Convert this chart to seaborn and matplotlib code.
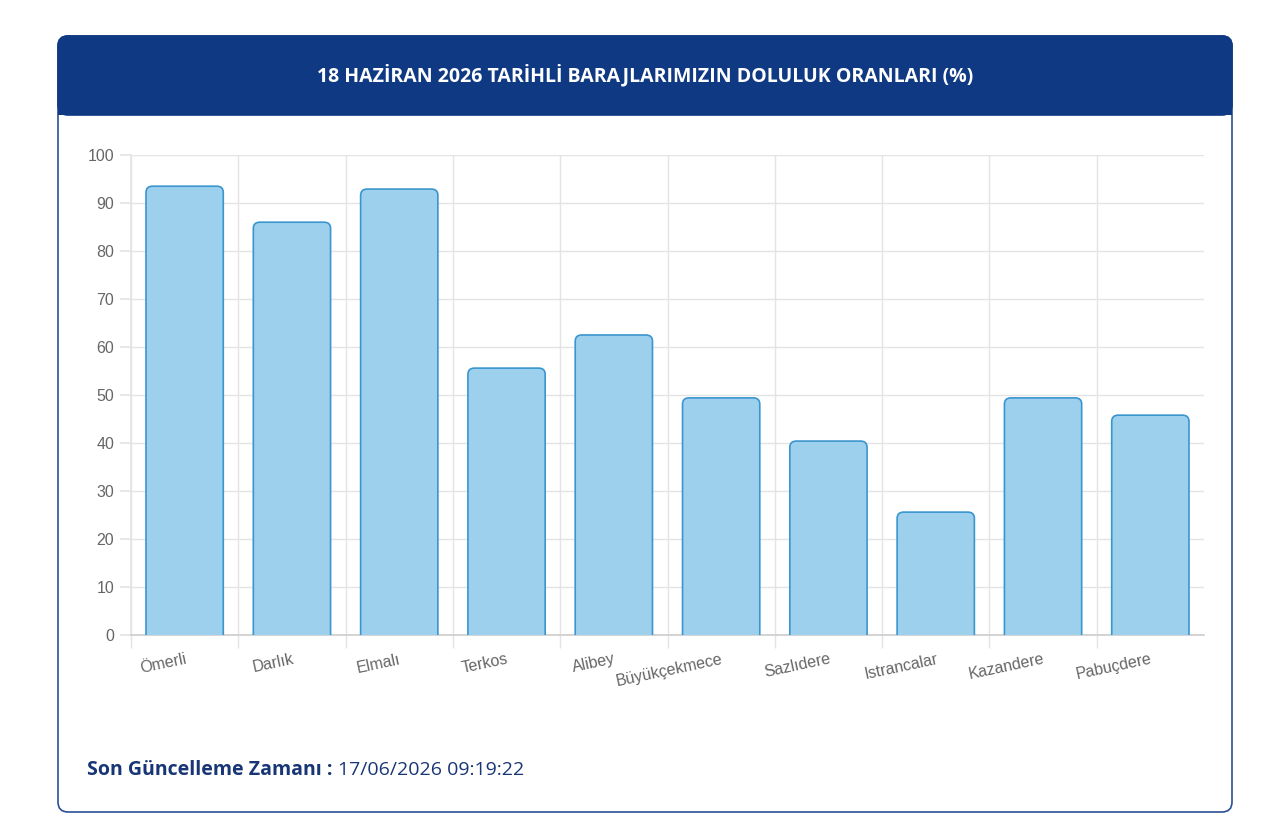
import numpy as np
import pandas as pd
import seaborn as sns
import matplotlib.pyplot as plt
from matplotlib.patches import FancyBboxPatch, Rectangle
from matplotlib.transforms import IdentityTransform

# Dam fill ratios (%)
dams = ["Ömerli", "Darlık", "Elmalı", "Terkos", "Alibey", "Büyükçekmece",
        "Sazlıdere", "Istrancalar", "Kazandere", "Pabuçdere"]
fill_pct = [93.5, 86.0, 92.9, 55.6, 62.5, 49.4, 40.4, 25.6, 49.4, 45.8]
y_ticks = list(range(0, 101, 10))

title = "18 HAZİRAN 2026 TARİHLİ BARAJLARIMIZIN DOLULUK ORANLARI (%)"
footer_label = "Son Güncelleme Zamanı :"
footer_value = "17/06/2026 09:19:22"

df = pd.DataFrame({"dam": dams, "fill": fill_pct})

sns.set_theme(style="white")
plt.rcParams["font.family"] = ["Liberation Sans", "DejaVu Sans"]

navy = "#0f3982"
bar_face = "#9dd0ec"
bar_edge = "#3a96cf"
grid_c = "#e4e4e4"
tick_c = "#666666"

W, H = 1280, 840
fig = plt.figure(figsize=(W / 100, H / 100), dpi=100)
fig.patch.set_facecolor("white")

# card frame + header band (pixel coords, origin bottom-left)
card = FancyBboxPatch((58, H - 812), 1174, 776, boxstyle="round,pad=0,rounding_size=10",
                      transform=IdentityTransform(), facecolor="white",
                      edgecolor="#2b4f97", linewidth=1.2, zorder=-3)
fig.patches.append(card)
head = FancyBboxPatch((58, H - 115), 1174, 79, boxstyle="round,pad=0,rounding_size=10",
                      transform=IdentityTransform(), facecolor=navy, edgecolor=navy,
                      linewidth=1.2, zorder=-2)
fig.patches.append(head)
fig.patches.append(Rectangle((58, H - 115), 1174, 20, transform=IdentityTransform(),
                             facecolor=navy, edgecolor="none", zorder=-2))

fig.text(645 / W, 1 - 75 / H, title, ha="center", va="center", color="white",
         fontsize=14, fontweight="bold", family=["Open Sans", "DejaVu Sans"])

# chart area
ax = fig.add_axes([131 / W, 1 - 635 / H, (1204 - 131) / W, (635 - 155) / H])
sns.barplot(data=df, x="dam", y="fill", ax=ax, color=bar_face, width=0.72,
            saturation=1, zorder=3)

# swap seaborn rectangles for top-rounded ones (bottom part clipped off by the axis)
ry = 1.3
for p in list(ax.patches):
    x0, w, h = p.get_x(), p.get_width(), p.get_height()
    rb = FancyBboxPatch((x0, -ry * 2), w, h + ry * 2,
                        boxstyle="round,pad=0,rounding_size=0.06",
                        mutation_aspect=ry / 0.06, facecolor=bar_face,
                        edgecolor=bar_edge, linewidth=1.2, zorder=3)
    ax.add_patch(rb)
    p.remove()

n = len(dams)
ax.set_xlim(-0.5, n - 0.5)
ax.set_ylim(0, 100)
ax.set_yticks(y_ticks)
ax.set_xticks(np.arange(-0.5, n - 1, 1), minor=True)
ax.grid(False)
ax.grid(axis="y", which="major", color=grid_c, linewidth=1, zorder=0)
ax.grid(axis="x", which="minor", color=grid_c, linewidth=1, zorder=0)
ax.tick_params(axis="y", which="major", length=8, color=grid_c, labelcolor=tick_c,
               labelsize=11.5, pad=4, left=True)
ax.tick_params(axis="x", which="major", length=0, labelcolor=tick_c, labelsize=11.5, pad=12)
ax.tick_params(axis="x", which="minor", length=9, color=grid_c, bottom=True)
ax.set_xticklabels(dams, rotation=12, ha="right", rotation_mode="anchor")
ax.set_xlabel("")
ax.set_ylabel("")
for s in ["top", "right"]:
    ax.spines[s].set_visible(False)
ax.spines["left"].set_color(grid_c)
ax.spines["bottom"].set_color("#cfcfcf")
ax.set_facecolor("none")

# footer
t1 = fig.text(87 / W, 1 - 770 / H, footer_label, ha="left", va="center", color="#183575",
              fontsize=14, fontweight="bold", family=["Open Sans", "DejaVu Sans"])
fig.canvas.draw()
bb = t1.get_window_extent()
fig.text((bb.x1 + 5) / W, 1 - 770 / H, footer_value, ha="left", va="center",
         color="#183575", fontsize=14, family=["Open Sans", "DejaVu Sans"])

fig.savefig("out.png", dpi=100)
